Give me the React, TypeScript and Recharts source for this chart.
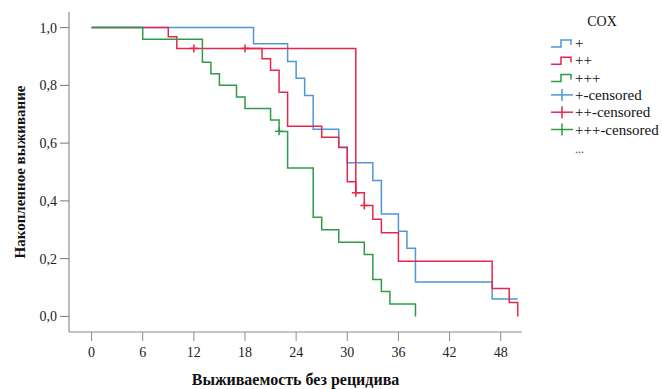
import React from "react";
import {
  ComposedChart,
  Line,
  Scatter,
  XAxis,
  YAxis,
  CartesianGrid,
} from "recharts";

// Kaplan-Meier steps (months, cumulative survival)
const blueT = [0, 19, 23, 24, 25, 26, 29, 30, 33, 34, 36, 37, 38, 47, 50];
const blueS = [1, 0.944, 0.883, 0.825, 0.765, 0.648, 0.586, 0.532, 0.471, 0.355, 0.295, 0.236, 0.119, 0.06, 0.06];

const redT = [0, 9, 10, 20, 21, 22, 23, 27, 29, 30, 31, 32, 33, 34, 36, 47, 49, 50];
const redS = [1, 0.968, 0.928, 0.892, 0.852, 0.776, 0.658, 0.62, 0.585, 0.466, 0.428, 0.384, 0.336, 0.29, 0.191, 0.097, 0.048, 0];

// second red path that stays flat until 31
const red2T = [18, 31];
const red2S = [0.928, 0.428];

const greenT = [0, 6, 13, 14, 15, 17, 18, 21, 22, 23, 26, 27, 29, 32, 33, 34, 35, 38];
const greenS = [1, 0.96, 0.88, 0.84, 0.8, 0.76, 0.72, 0.68, 0.64, 0.514, 0.343, 0.3, 0.257, 0.214, 0.128, 0.086, 0.043, 0];

const redCensT = [12, 18, 31, 32];
const redCensS = [0.928, 0.928, 0.428, 0.384];
const greenCensT = [22];
const greenCensS = [0.641];

const xTicks = [0, 6, 12, 18, 24, 30, 36, 42, 48];
const yTicks = [0, 0.2, 0.4, 0.6, 0.8, 1];

const legendTitle = "COX";
const legendNames = ["+", "++", "+++", "+-censored", "++-censored", "+++-censored"];

const BLUE = "#4f97d8";
const RED = "#e5274d";
const GREEN = "#2f9a48";
const FONT = "'Liberation Serif', 'Times New Roman', serif";

const pts = (t: number[], s: number[]) => t.map((x, i) => ({ t: x, s: s[i] }));

const Censor = (color: string) => (props: any) => {
  const { cx, cy } = props;
  return (
    <g stroke={color} strokeWidth={1.5}>
      <line x1={cx} x2={cx} y1={cy - 4} y2={cy + 4} />
      <line x1={cx - 4} x2={cx + 4} y1={cy} y2={cy} />
    </g>
  );
};

function LegendBox() {
  const colors = [BLUE, RED, GREEN, BLUE, RED, GREEN];
  const x0 = 551;
  return (
    <svg
      width={662}
      height={389}
      style={{ position: "absolute", left: 0, top: 0, pointerEvents: "none" }}
    >
      <text x={602} y={26} textAnchor="middle" fontFamily={FONT} fontSize={14} fill="#111">
        {legendTitle}
      </text>
      {legendNames.map((name, i) => {
        const y = 43 + i * 17.3;
        const c = colors[i];
        return (
          <g key={name}>
            {i < 3 ? (
              <path
                d={`M${x0},${y + 4} H${x0 + 10} V${y - 3} H${x0 + 20} V${y + 2}`}
                fill="none"
                stroke={c}
                strokeWidth={1.5}
              />
            ) : (
              <g stroke={c} strokeWidth={1.5}>
                <line x1={x0} x2={x0 + 22} y1={y} y2={y} />
                <line x1={x0 + 11} x2={x0 + 11} y1={y - 6} y2={y + 6} />
              </g>
            )}
            <text x={575} y={y + 5} fontFamily={FONT} fontSize={15} fill="#111">
              {name}
            </text>
          </g>
        );
      })}
      <text x={575} y={153} fontFamily={FONT} fontSize={12} fill="#444">
        ...
      </text>
    </svg>
  );
}

export default function App() {
  const tickStyle = { fontFamily: FONT, fontSize: 14, fill: "#222" };
  return (
    <div style={{ position: "absolute", left: 0, top: 0, width: 662, height: 389, background: "#fff" }}>
      <ComposedChart
        width={662}
        height={389}
        margin={{ top: 12, right: 140, left: 0, bottom: 0 }}
      >
        <CartesianGrid
          stroke="#c4c4c4"
          strokeWidth={1.2}
          verticalCoordinatesGenerator={(p: any) =>
            typeof p?.xAxis?.scale === "function" ? xTicks.map((t) => p.xAxis.scale(t)) : []
          }
          horizontalCoordinatesGenerator={(p: any) =>
            typeof p?.yAxis?.scale === "function" ? yTicks.map((t) => p.yAxis.scale(t)) : []
          }
        />
        <XAxis
          type="number"
          dataKey="t"
          domain={[-2.65, 50.5]}
          ticks={xTicks}
          allowDataOverflow
          height={57}
          tickSize={9}
          tickMargin={6}
          stroke="#8c8c8c"
          tick={tickStyle}
          label={{
            value: "Выживаемость без рецидива",
            position: "insideBottom",
            offset: 4,
            style: { fontFamily: FONT, fontSize: 16, fontWeight: "bold", fill: "#111" },
          }}
        />
        <YAxis
          type="number"
          dataKey="s"
          domain={[-0.054, 1.054]}
          ticks={yTicks}
          allowDataOverflow
          width={69}
          tickSize={9}
          tickMargin={3}
          stroke="#777"
          tick={tickStyle}
          tickFormatter={(v: number) => v.toFixed(1).replace(".", ",")}
          label={{
            value: "Накопленное выживание",
            angle: -90,
            position: "insideLeft",
            offset: 20,
            style: { textAnchor: "middle", fontFamily: FONT, fontSize: 15, fontWeight: "bold", fill: "#111" },
          }}
        />
        <Line data={pts(blueT, blueS)} dataKey="s" type="stepAfter" stroke={BLUE} strokeWidth={1.5} dot={false} isAnimationActive={false} />
        <Line data={pts(red2T, red2S)} dataKey="s" type="stepAfter" stroke={RED} strokeWidth={1.5} dot={false} isAnimationActive={false} />
        <Line data={pts(redT, redS)} dataKey="s" type="stepAfter" stroke={RED} strokeWidth={1.5} dot={false} isAnimationActive={false} />
        <Line data={pts(greenT, greenS)} dataKey="s" type="stepAfter" stroke={GREEN} strokeWidth={1.5} dot={false} isAnimationActive={false} />
        <Scatter data={pts(redCensT, redCensS)} dataKey="s" shape={Censor(RED)} isAnimationActive={false} />
        <Scatter data={pts(greenCensT, greenCensS)} dataKey="s" shape={Censor(GREEN)} isAnimationActive={false} />
      </ComposedChart>
      <LegendBox />
    </div>
  );
}
